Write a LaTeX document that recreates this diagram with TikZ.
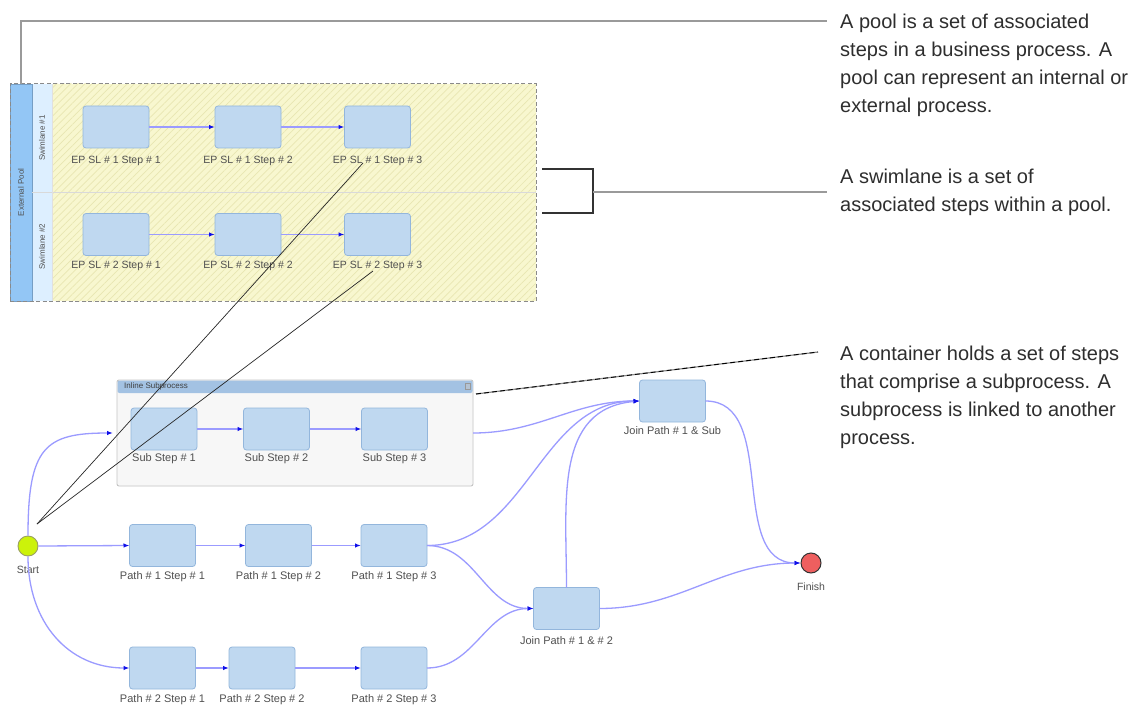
\documentclass[tikz,border=0pt]{standalone}
\usepackage{fontspec}
\setmainfont{Liberation Sans}
\usetikzlibrary{arrows.meta,patterns.meta,calc}
\definecolor{boxfill}{HTML}{BFD8F0}
\definecolor{boxline}{HTML}{93B6DC}
\definecolor{poolyellow}{HTML}{F8F7CF}
\definecolor{hatchc}{HTML}{E8E6B2}
\definecolor{expoolc}{HTML}{93C6F5}
\definecolor{swimc}{HTML}{DDEFFF}
\definecolor{contfill}{HTML}{F7F7F7}
\definecolor{contline}{HTML}{C4C4C4}
\definecolor{conthead}{HTML}{A3C2E3}
\definecolor{flowc}{HTML}{9B9BFF}
\definecolor{arrowc}{HTML}{1010E8}
\definecolor{startc}{HTML}{CCF20A}
\definecolor{startline}{HTML}{9AA060}
\definecolor{finishc}{HTML}{EE5F5F}
\definecolor{notec}{HTML}{2E2E2E}
\definecolor{lblc}{HTML}{505050}
\definecolor{leaderc}{HTML}{9A9A9A}
\definecolor{dashc}{HTML}{8A8A8A}
\begin{document}
\begin{tikzpicture}[x=1pt,y=-1pt,
  stepbox/.style={draw=boxline, fill=boxfill, rounded corners=3pt, minimum width=66pt, minimum height=42pt, inner sep=0pt, outer sep=0pt, line width=0.8pt},
  lbl/.style={font=\fontsize{10.5}{12}\selectfont, text=lblc, inner sep=0pt},
  plbl/.style={font=\fontsize{11}{12}\selectfont, text=lblc, inner sep=0pt},
  vlbl/.style={font=\fontsize{8}{9}\selectfont, text=lblc, inner sep=0pt, rotate=90},
  flow/.style={draw=flowc, line width=1.3pt, -{Latex[length=6pt,width=4.5pt,color=arrowc]}},
  lane/.style={fill=poolyellow, inner sep=0pt, outer sep=0pt, postaction={pattern={Lines[angle=45,distance=5pt,line width=0.7pt]}, pattern color=hatchc}},
  swimhdr/.style={fill=swimc, inner sep=0pt, outer sep=0pt, minimum width=20pt},
  note/.style={font=\fontsize{20}{28}\selectfont, text=notec, align=left, anchor=north west, inner sep=0pt},
  leader/.style={draw=leaderc, line width=1.2pt},
  annot/.style={draw=black!85, line width=0.7pt}
]
\useasboundingbox[fill=white] (0,0) rectangle (1138,706);

% ---------------- Pool ----------------
\node[lane, minimum width=484pt, minimum height=108pt] (lane1) at (294,138) {};
\node[lane, minimum width=484pt, minimum height=109pt] (lane2) at (294,246.5) {};
\node[swimhdr, minimum height=108pt] (sh1) at (42,138) {};
\node[swimhdr, minimum height=109pt] (sh2) at (42,246.5) {};
\node[fill=expoolc, draw=expoolc!80!black, inner sep=0pt, outer sep=0pt, minimum width=22pt, minimum height=217pt] (ep) at (21,192.5) {};
\draw[draw=black!15, line width=1pt] (sh1.south west) -- (lane1.south east);
\draw[draw=black!12, line width=0.6pt] (sh1.north east) -- (sh2.south east);
\node[draw=dashc, dashed, dash pattern=on 4pt off 2.5pt, line width=1pt, inner sep=0pt, minimum width=526pt, minimum height=217pt] (pool) at (273,192.5) {};
\node[vlbl] (eptxt) at (ep.center) {External Pool};
\node[vlbl] (sh1txt) at (sh1.center) {Swimlane \#1};
\node[vlbl] (sh2txt) at (sh2.center) {Swimlane \#2};

\node[stepbox] (e11) at (116,127) {};
\node[stepbox] (e12) at (248,127) {};
\node[stepbox] (e13) at (377.5,127) {};
\node[stepbox] (e21) at (116,234.5) {};
\node[stepbox] (e22) at (248,234.5) {};
\node[stepbox] (e23) at (377.5,234.5) {};
\node[lbl] (le11) at ([yshift=-13pt]e11.south) {EP SL \# 1 Step \# 1};
\node[lbl] (le12) at ([yshift=-13pt]e12.south) {EP SL \# 1 Step \# 2};
\node[lbl] (le13) at ([yshift=-13pt]e13.south) {EP SL \# 1 Step \# 3};
\node[lbl] (le21) at ([yshift=-10.5pt]e21.south) {EP SL \# 2 Step \# 1};
\node[lbl] (le22) at ([yshift=-10.5pt]e22.south) {EP SL \# 2 Step \# 2};
\node[lbl] (le23) at ([yshift=-10.5pt]e23.south) {EP SL \# 2 Step \# 3};
\draw[flow] (e11) -- (e12);
\draw[flow] (e12) -- (e13);
\draw[flow] (e21) -- (e22);
\draw[flow] (e22) -- (e23);

% ---------------- Subprocess container ----------------
\node[draw=contline, fill=contfill, rounded corners=2pt, line width=0.9pt, inner sep=0pt, outer sep=0pt, minimum width=356pt, minimum height=106pt] (sub) at (295,433) {};
\fill[conthead, rounded corners=2pt] ([shift={(0.5,0.5)}]sub.north west) rectangle ([shift={(-0.5,13)}]sub.north east);
\node[font=\fontsize{8}{9}\selectfont, text=black!75, anchor=west, inner sep=0pt] (subtitle) at (124,386.5) {Inline Subprocess};
\node[draw=black!40, fill=conthead!80!black!60, inner sep=0pt, minimum size=5.5pt, line width=0.5pt] (icon) at (467.5,386) {};

\node[stepbox] (s1) at (164,429) {};
\node[stepbox] (s2) at (276.5,429) {};
\node[stepbox] (s3) at (394.5,429) {};
\node[plbl] (ls1) at ([yshift=-8.5pt]s1.south) {Sub Step \# 1};
\node[plbl] (ls2) at ([yshift=-8.5pt]s2.south) {Sub Step \# 2};
\node[plbl] (ls3) at ([yshift=-8.5pt]s3.south) {Sub Step \# 3};
\draw[flow] (s1) -- (s2);
\draw[flow] (s2) -- (s3);

% ---------------- Main flow ----------------
\node[circle, draw=startline, fill=startc, line width=0.9pt, minimum size=20pt, inner sep=0pt] (start) at (28,546) {};
\node[lbl] (lstart) at ([yshift=-13pt]start.south) {Start};
\node[circle, draw=black!80, fill=finishc, line width=1pt, minimum size=20pt, inner sep=0pt] (finish) at (811,563) {};
\node[lbl] (lfinish) at ([yshift=-13.5pt]finish.south) {Finish};

\node[stepbox] (p11) at (162.5,545.5) {};
\node[stepbox] (p12) at (278.5,545.5) {};
\node[stepbox] (p13) at (394,545.5) {};
\node[plbl] (lp11) at ([yshift=-10.5pt]p11.south) {Path \# 1 Step \# 1};
\node[plbl] (lp12) at ([yshift=-10.5pt]p12.south) {Path \# 1 Step \# 2};
\node[plbl] (lp13) at ([yshift=-10.5pt]p13.south) {Path \# 1 Step \# 3};

\node[stepbox] (p21) at (162.5,668) {};
\node[stepbox] (p22) at (262,668) {};
\node[stepbox] (p23) at (394,668) {};
\node[plbl] (lp21) at ([yshift=-11pt]p21.south) {Path \# 2 Step \# 1};
\node[plbl] (lp22) at ([yshift=-11pt]p22.south) {Path \# 2 Step \# 2};
\node[plbl] (lp23) at ([yshift=-11pt]p23.south) {Path \# 2 Step \# 3};

\node[stepbox] (j12) at (566.5,608.5) {};
\node[plbl] (lj12) at ([yshift=-11pt]j12.south) {Join Path \# 1 \& \# 2};
\node[stepbox] (jsub) at (672.5,401) {};
\node[plbl] (ljsub) at ([yshift=-8.5pt]jsub.south) {Join Path \# 1 \& Sub};

\draw[flow, shorten >=4pt] (start.north) .. controls (28,447) and (45,433) .. (sub.west);
\draw[flow] (start.east) -- (p11.west);
\draw[flow] (p11) -- (p12);
\draw[flow] (p12) -- (p13);
\draw[flow] (start.south) .. controls (28,622) and (68,668) .. (p21.west);
\draw[flow] (p21) -- (p22);
\draw[flow] (p22) -- (p23);

\draw[flow] (sub.east) to[out=0,in=180] (jsub.west);
\draw[flow] (p13.east) to[out=0,in=180] (jsub.west);
\draw[flow] (p13.east) to[out=0,in=180] (j12.west);
\draw[flow] (p23.east) to[out=0,in=180] (j12.west);
\draw[flow] (j12.north) to[out=90,in=185,looseness=1.1] (jsub.west);
\draw[flow] (jsub.east) to[out=0,in=180] (finish.west);
\draw[flow] (j12.east) to[out=0,in=180] (finish.west);

% ---------------- Annotations ----------------
\coordinate (ann) at (37,524);
\coordinate (a1) at (363,163);
\coordinate (a2) at (373,271);
\draw[annot] (ann) -- (a1);
\draw[annot] (ann) -- (a2);

\coordinate (poolend) at (827,21);
\draw[leader] (ep.north) |- (poolend);
\node[note] (notepool) at (840,14) {A pool is a set of associated\\steps in a business process. A\\pool can represent an internal or\\external process.};

\coordinate (bt) at (542,169);
\coordinate (bb) at (542,213);
\coordinate (bm) at (593,192);
\coordinate (swimend) at (827,192);
\draw[draw=black!80, line width=1.2pt] (bt) -| (bm) |- (bb);
\draw[leader] (bm) -- (swimend);
\node[note] (noteswim) at (840,169) {A swimlane is a set of\\associated steps within a pool.};

\coordinate (contstart) at (476,394);
\coordinate (contend) at (818,352);
\draw[draw=black!45, line width=1.2pt] (contstart) -- (contend);
\draw[draw=black, line width=0.9pt, dash pattern=on 5pt off 3pt] (contstart) -- (contend);
\node[note] (notecont) at (840,346) {A container holds a set of steps\\that comprise a subprocess. A\\subprocess is linked to another\\process.};
\end{tikzpicture}
\end{document}
